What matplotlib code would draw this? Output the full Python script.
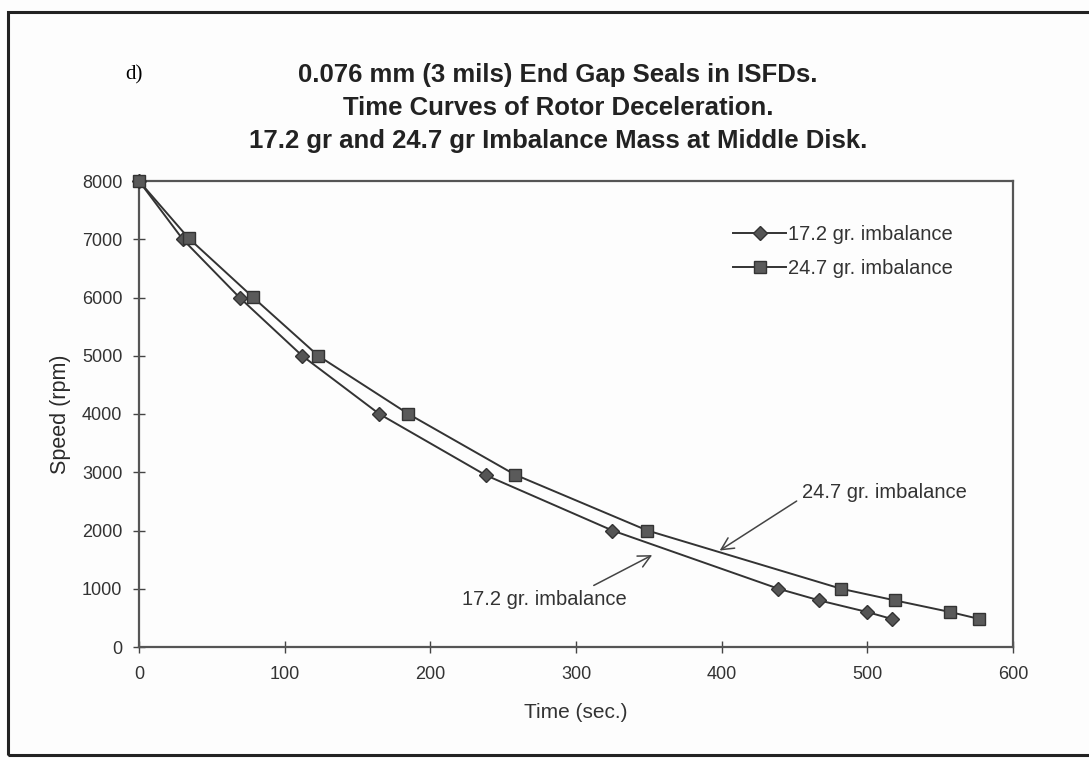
import matplotlib.pyplot as plt
from matplotlib.patches import Rectangle

# Rotor coast-down data, time (s) vs speed (rpm)
t_172 = [0, 30, 69, 112, 165, 238, 325, 439, 467, 500, 517]
rpm_172 = [8000, 7000, 6000, 5000, 4000, 2950, 2000, 1000, 800, 600, 480]

t_247 = [0, 34, 78, 123, 185, 258, 349, 482, 519, 557, 577]
rpm_247 = [8000, 7020, 6010, 5000, 4000, 2960, 2000, 1000, 800, 600, 480]

x_ticks = [0, 100, 200, 300, 400, 500, 600]
y_ticks = [0, 1000, 2000, 3000, 4000, 5000, 6000, 7000, 8000]

plt.rcParams["font.family"] = ["Liberation Sans", "DejaVu Sans"]

fig = plt.figure(figsize=(10.89, 7.6), dpi=100)
fig.patch.set_facecolor("#fdfdfd")

# frame around the whole figure panel
fig.patches.append(Rectangle((8 / 1089, 5 / 760), 1.2, 743 / 760,
                             transform=fig.transFigure, fill=False,
                             edgecolor="#222222", linewidth=2.2))

ax = fig.add_axes([139 / 1089, 113 / 760, 874 / 1089, 466 / 760])
ax.set_facecolor("none")

line_col = "#333333"
ax.plot(t_172, rpm_172, color=line_col, linewidth=1.4, marker="D",
        markersize=7.5, markerfacecolor="#555555", markeredgecolor="#333333",
        label="17.2 gr. imbalance", zorder=3, clip_on=False)
ax.plot(t_247, rpm_247, color=line_col, linewidth=1.4, marker="s",
        markersize=9, markerfacecolor="#5a5a5a", markeredgecolor="#333333",
        label="24.7 gr. imbalance", zorder=3, clip_on=False)

ax.set_xlim(0, 600)
ax.set_ylim(0, 8000)
ax.set_xticks(x_ticks)
ax.set_yticks(y_ticks)
ax.tick_params(direction="inout", length=8, width=1, color="#444444",
               labelsize=13, labelcolor="#333333")
ax.tick_params(axis="x", pad=10)
ax.tick_params(axis="y", pad=8)
for s in ax.spines.values():
    s.set_color("#555555")
    s.set_linewidth(1.6)

ax.set_xlabel("Time (sec.)", fontsize=15, color="#333333", labelpad=14)
ax.set_ylabel("Speed (rpm)", fontsize=15.5, color="#2a2a2a", labelpad=8)

ax.legend(loc="upper left", bbox_to_anchor=(0.68, 0.905), frameon=False,
          fontsize=14.5, handlelength=2.6, handletextpad=0.1,
          labelspacing=0.72, borderpad=0, borderaxespad=0,
          labelcolor="#333333")

# call-outs pointing at each curve
arrow = dict(arrowstyle="->", color="#444444", linewidth=1.1,
             mutation_scale=22)
ax.annotate("24.7 gr. imbalance", xy=(397, 1630), xytext=(455, 2660),
            fontsize=14.5, color="#333333", va="center", ha="left",
            arrowprops=dict(arrow, relpos=(0.0, 0.2)))
ax.annotate("17.2 gr. imbalance", xy=(354, 1600), xytext=(222, 824),
            fontsize=14.5, color="#333333", va="center", ha="left",
            arrowprops=dict(arrow, relpos=(0.75, 1.0)))

fig.text(125 / 1089, 1 - 75 / 760, "d)", fontsize=15,
         family=["Liberation Serif", "DejaVu Serif"], ha="left", va="center")
titles = ["0.076 mm (3 mils) End Gap Seals in ISFDs.",
          "Time Curves of Rotor Deceleration.",
          "17.2 gr and 24.7 gr Imbalance Mass at Middle Disk."]
for i, line in enumerate(titles):
    fig.text(558 / 1089, 1 - (75 + 33 * i) / 760, line, fontsize=18.5,
             fontweight="bold", color="#222222", ha="center", va="center")

fig.savefig("out.png", dpi=100, facecolor=fig.get_facecolor())
